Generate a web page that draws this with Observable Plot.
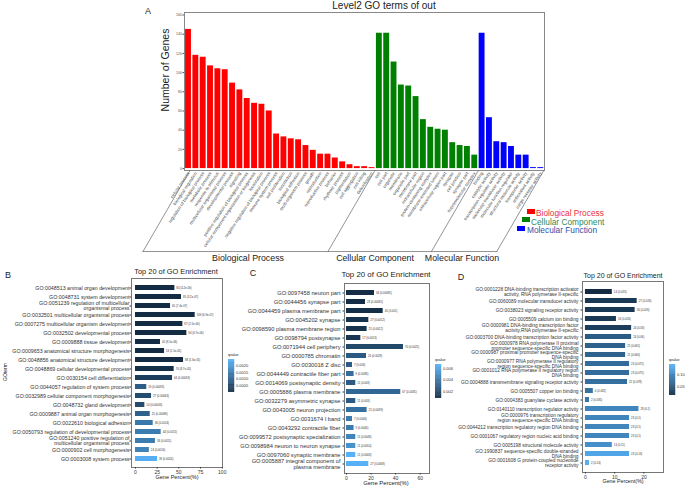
<!DOCTYPE html>
<html>
<head>
<meta charset="utf-8">
<script src="https://cdn.jsdelivr.net/npm/d3@7"></script>
<script src="https://cdn.jsdelivr.net/npm/@observablehq/plot@0.6"></script>
<style>
  html, body { margin: 0; padding: 0; background: #fff; }
  #page { position: relative; width: 685px; height: 490px; overflow: hidden; font-family: "Liberation Sans", Arial, sans-serif; color: #222; }
  #page svg { position: absolute; }
  .lbl { position: absolute; white-space: nowrap; line-height: 1; }
</style>
</head>
<body>
<div id="page"></div>
<script>
// panel A, level 2 GO terms
const bpTerms = ["cellular process", "biological regulation", "regulation of biological process", "metabolic process", "response to stimulus", "multicellular organismal process", "developmental process", "signaling", "positive regulation of biological process", "cellular component organization or biogenesis", "localization", "negative regulation of biological process", "immune system process", "cell proliferation", "locomotion", "biological adhesion", "multi-organism process", "growth", "reproduction", "reproductive process", "behavior", "rhythmic process", "pigmentation", "cell aggregation", "cell killing", "detoxification"];
const bpGenes = [145, 118, 116, 107, 104, 103, 89, 82, 73, 68, 67, 60, 36, 33, 31, 30, 24, 19, 15, 15, 11, 7, 4, 2, 2, 1];
const ccTerms = ["cell", "cell part", "organelle", "membrane", "organelle part", "membrane part", "extracellular region", "protein-containing complex", "membrane-enclosed lumen", "extracellular region part", "synapse", "cell junction", "synapse part", "supramolecular complex"];
const ccGenes = [141, 141, 111, 87, 86, 75, 51, 43, 41, 40, 27, 24, 23, 14];
const mfTerms = ["binding", "catalytic activity", "transcription regulator activity", "molecular transducer activity", "molecular function regulator", "structural molecule activity", "transporter activity", "antioxidant activity", "cargo receptor activity"];
const mfGenes = [141, 53, 28, 27, 23, 14, 14, 1, 1];

// panel B, biological process
const bTerms = ["GO:0048513 animal organ development", "GO:0048731 system development", "GO:0051239 regulation of multicellular\norganismal process", "GO:0032501 multicellular organismal process", "GO:0007275 multicellular organism development", "GO:0032502 developmental process", "GO:0009888 tissue development", "GO:0009653 anatomical structure morphogenesis", "GO:0048856 anatomical structure development", "GO:0048869 cellular developmental process", "GO:0030154 cell differentiation", "GO:0044057 regulation of system process", "GO:0032989 cellular component morphogenesis", "GO:0048732 gland development", "GO:0009887 animal organ morphogenesis", "GO:0022610 biological adhesion", "GO:0050793 regulation of developmental process", "GO:0051240 positive regulation of\nmulticellular organismal process", "GO:0000902 cell morphogenesis", "GO:0003008 system process"];
const bPercent = [45.4, 53, 40.4, 68.8, 54.6, 59.2, 28.8, 33.5, 55.4, 44.6, 42.7, 13, 18.5, 10.8, 17, 20.4, 29.6, 23, 16, 25.4];
const bLabels = ["84 (4.2e-06)", "85 (3.2e-07)", "65 (7.4e-07)", "109 (6.9e-07)", "87 (2.1e-06)", "94 (6.7e-06)", "45 (8.5e-06)", "53 (1.5e-05)", "88 (1.6e-05)", "70 (8.7e-05)", "64 (0.00033)", "19 (0.00093)", "27 (0.00063)", "14 (0.00063)", "25 (0.00098)", "36 (0.0014)", "44 (0.0015)", "34 (0.0015)", "24 (0.0016)", "39 (0.0024)"];
const bQvalue = [4.2e-6, 3.2e-7, 7.4e-7, 6.9e-7, 2.1e-6, 6.7e-6, 8.5e-6, 1.5e-5, 1.6e-5, 8.7e-5, 0.00033, 0.00093, 0.00063, 0.00063, 0.00098, 0.0014, 0.0015, 0.0015, 0.0016, 0.0024];

// panel C, cellular component
const cTerms = ["GO:0097458 neuron part", "GO:0044456 synapse part", "GO:0044459 plasma membrane part", "GO:0045202 synapse", "GO:0098590 plasma membrane region", "GO:0098794 postsynapse", "GO:0071944 cell periphery", "GO:0000785 chromatin", "GO:0030018 Z disc", "GO:0044449 contractile fiber part", "GO:0014069 postsynaptic density", "GO:0005886 plasma membrane", "GO:0032279 asymmetric synapse", "GO:0043005 neuron projection", "GO:0031674 I band", "GO:0043292 contractile fiber", "GO:0099572 postsynaptic specialization", "GO:0098984 neuron to neuron synapse", "GO:0097060 synaptic membrane", "GO:0005887 integral component of\nplasma membrane"];
const cPercent = [22.8, 15.5, 29.9, 18.2, 16.8, 11.7, 46.4, 16.3, 4.9, 6.2, 7.6, 44.2, 7.6, 16.8, 4.9, 6.2, 7.6, 7.6, 7.6, 18.2];
const cLabels = ["34 (0.00085)", "23 (0.00085)", "45 (0.001)", "27 (0.0012)", "25 (0.0012)", "17 (0.0013)", "70 (0.0021)", "24 (0.0029)", "7 (0.003)", "9 (0.0038)", "11 (0.003)", "67 (0.0035)", "11 (0.003)", "25 (0.0039)", "7 (0.0044)", "9 (0.0044)", "11 (0.0048)", "11 (0.0054)", "11 (0.0068)", "27 (0.0068)"];
const cQvalue = [0.00085, 0.00085, 0.001, 0.0012, 0.0012, 0.0013, 0.0021, 0.0029, 0.003, 0.0038, 0.003, 0.0035, 0.003, 0.0039, 0.0044, 0.0044, 0.0048, 0.0054, 0.0068, 0.0068];

// panel D, molecular function
const dTerms = ["GO:0001228 DNA-binding transcription activator\nactivity, RNA polymerase II-specific", "GO:0060089 molecular transducer activity", "GO:0038023 signaling receptor activity", "GO:0005509 calcium ion binding", "GO:0000981 DNA-binding transcription factor\nactivity,RNA polymerase II-specific", "GO:0003700 DNA-binding transcription factor activity", "GO:0000978 RNA polymerase II proximal\npromoter sequence-specific DNA binding", "GO:0000987 proximal promoter sequence-specific\nDNA binding", "GO:0000977 RNA polymerase II regulatory\nregion sequence-specific DNA binding", "GO:0001012 RNA polymerase II regulatory region\nDNA binding", "GO:0004888 transmembrane signaling receptor activity", "GO:0005507 copper ion binding", "GO:0004383 guanylate cyclase activity", "GO:0140110 transcription regulator activity", "GO:0000976 transcription regulatory\nregion sequence-specific DNA binding", "GO:0044212 transcription regulatory region DNA binding", "GO:0001067 regulatory region nucleic acid binding", "GO:0005198 structural molecule activity", "GO:1990837 sequence-specific double-stranded\nDNA binding", "GO:0001608 G protein-coupled nucleotide\nreceptor activity"];
const dPercent = [9.2, 17.7, 17, 10.6, 15.8, 15.8, 13.75, 13.75, 15.1, 15.1, 14.4, 2.7, 1.4, 18.3, 15.1, 15.1, 15.1, 9.2, 15.1, 1.4];
const dLabels = ["14 (0.013)", "27 (0.026)", "26 (0.026)", "16 (0.026)", "24 (0.03)", "24 (0.06)", "21 (0.065)", "21 (0.066)", "23 (0.075)", "23 (0.075)", "22 (0.078)", "4 (0.082)", "2 (0.085)", "28 (0.1)", "23 (0.1)", "23 (0.1)", "23 (0.1)", "14 (0.11)", "23 (0.13)", "2 (0.14)"];
const dQvalue = [0.013, 0.026, 0.026, 0.026, 0.03, 0.06, 0.065, 0.066, 0.075, 0.075, 0.078, 0.082, 0.085, 0.1, 0.1, 0.1, 0.1, 0.11, 0.13, 0.14];

const gradient = ["#132B43", "#56B1F7"];
const page = document.getElementById("page");

function place(node, left, top) {
  node.style.left = left + "px";
  node.style.top = top + "px";
  page.append(node);
}

// x, y is the centre of the text unless anchor says otherwise
function label(text, x, y, size, opts = {}) {
  const el = document.createElement("div");
  el.className = "lbl";
  el.textContent = text;
  el.style.fontSize = size + "px";
  if (opts.color) el.style.color = opts.color;
  const tx = opts.anchor === "start" ? "0" : "-50%";
  el.style.transform = `translate(${tx},-50%)` + (opts.rotate ? ` rotate(${opts.rotate}deg)` : "");
  el.style.left = x + "px";
  el.style.top = y + "px";
  page.append(el);
}

// ---- A
const allTerms = [...bpTerms, ...ccTerms, ...mfTerms];
const allGenes = [...bpGenes, ...ccGenes, ...mfGenes];
const allColors = [...bpTerms.map(() => "#ff0000"), ...ccTerms.map(() => "#008000"), ...mfTerms.map(() => "#0000ff")];
const bars = allTerms.map((term, i) => ({i, term, genes: allGenes[i], color: allColors[i]}));

// oblique brackets under the term labels, in bar index units
const bracketCuts = [0.2, 25.4, 39.5, 48.4];
const bracketSlant = 6.4;
const bracketY = -86.4;
const brackets = bracketCuts.flatMap((c, k) => [
  {k, x: c, y: -2},
  {k, x: c - bracketSlant, y: bracketY}
]);
const baseline = [
  {x: bracketCuts[0] - bracketSlant, y: bracketY},
  {x: bracketCuts[3] - bracketSlant, y: bracketY}
];

const chartA = Plot.plot({
  width: 430,
  height: 265,
  marginLeft: 54,
  marginRight: 16,
  marginTop: 12,
  marginBottom: 95,
  style: {fontFamily: "Liberation Sans", background: "transparent"},
  x: {domain: [-0.545, 48.5]},
  y: {domain: [-2, 162.6]},
  marks: [
    Plot.rectY(bars, {x1: d => d.i - 0.4, x2: d => d.i + 0.4, y1: 0, y2: "genes", fill: "color"}),
    Plot.frame({stroke: "#888"}),
    Plot.axisY({ticks: d3.range(0, 161, 20), tickSize: 1.5, tickPadding: 1, fontSize: 3.6, label: null, color: "#555"}),
    Plot.axisX({ticks: d3.range(allTerms.length), tickFormat: i => allTerms[i], tickRotate: -56, tickSize: 0, tickPadding: 2, fontSize: 4.4, label: null, color: "#444"}),
    Plot.line(brackets, {x: "x", y: "y", z: "k", stroke: "#666", strokeWidth: 0.7}),
    Plot.line(baseline, {x: "x", y: "y", stroke: "#666", strokeWidth: 0.7})
  ]
});
place(chartA, 130, 0);

label("A", 148, 11, 9);
label("Level2 GO terms of out", 384, 6, 10);
label("Number of Genes", 165, 70, 10.5, {rotate: -90});
label("Biological Process", 248, 258, 8.8);
label("Cellular Component", 375, 258, 8.8);
label("Molecular Function", 462, 258, 8.8);

// legend of panel A
[["Biological Process", "#ff0000", "#e8323c", 527, 536, 211], ["Cellular Component", "#008000", "#2e8b57", 522, 531, 219.5], ["Molecular Function", "#0000ff", "#3050a8", 517, 527, 228]].forEach(([name, swatch, ink, sx, tx, y]) => {
  const box = document.createElement("div");
  box.style.cssText = `position:absolute;left:${sx}px;top:${y - 2.5}px;width:8px;height:5px;background:${swatch}`;
  page.append(box);
  label(name, tx, y + 2, 8.3, {anchor: "start", color: ink});
});

// ---- B, C, D
function enrichment(cfg) {
  const rows = cfg.terms.map((term, i) => ({term, pct: cfg.percent[i], text: cfg.labels[i], q: cfg.qvalue[i]}));
  const chart = Plot.plot({
    width: cfg.width,
    height: cfg.height,
    marginLeft: cfg.ml,
    marginRight: cfg.mr,
    marginTop: cfg.mt,
    marginBottom: cfg.mb,
    style: {fontFamily: "Liberation Sans", background: "transparent"},
    x: {domain: cfg.xDomain},
    y: {domain: cfg.terms, paddingInner: 0.45, paddingOuter: 0.31},
    color: {type: "linear", domain: cfg.colorDomain, range: gradient},
    marks: [
      Plot.barX(rows, {x1: 0, x2: "pct", y: "term", fill: "q"}),
      Plot.text(rows, {x: "pct", y: "term", text: "text", textAnchor: "start", dx: 1.5, fontSize: 2.8, fill: "#333"}),
      Plot.frame({stroke: "#777", strokeWidth: 1}),
      Plot.axisX({ticks: cfg.xTicks, tickSize: 1.5, tickPadding: 1, fontSize: 5, label: null, color: "#333"}),
      Plot.axisY({tickSize: 1.5, tickPadding: cfg.pad, fontSize: cfg.fontSize, label: null, color: "#333", lineHeight: 1})
    ]
  });
  place(chart, cfg.left, cfg.top);
}

function colorBar(domain, ticks, format, left, top, height) {
  const steps = d3.range(60).map(i => {
    const lo = domain[0] + (domain[1] - domain[0]) * i / 60;
    const hi = domain[0] + (domain[1] - domain[0]) * (i + 1) / 60;
    return {lo, hi, mid: (lo + hi) / 2};
  });
  const bar = Plot.plot({
    width: 30,
    height: height,
    marginLeft: 0,
    marginRight: 24,
    marginTop: 0,
    marginBottom: 0,
    style: {fontFamily: "Liberation Sans", background: "transparent"},
    x: {domain: [0, 1], axis: null},
    y: {domain: domain},
    color: {type: "linear", domain: domain, range: gradient},
    marks: [
      Plot.rect(steps, {x1: 0, x2: 1, y1: "lo", y2: "hi", fill: "mid", stroke: "mid", strokeWidth: 0.3}),
      Plot.axisY({anchor: "right", ticks, tickFormat: format, tickSize: 0, tickPadding: 1.5, fontSize: 4, label: null, color: "#333"})
    ]
  });
  place(bar, left, top);
  label("qvalue", left, top - 3.5, 3.6, {anchor: "start"});
}

enrichment({
  terms: bTerms, percent: bPercent, labels: bLabels, qvalue: bQvalue,
  xDomain: [-4.6, 100.3], xTicks: [0, 25, 50, 75, 100], colorDomain: [0, 0.00245], fontSize: 5.3, pad: 0.5,
  left: 0, top: 265, width: 235, height: 225, ml: 131, mr: 13, mt: 13, mb: 23
});
enrichment({
  terms: cTerms, percent: cPercent, labels: cLabels, qvalue: cQvalue,
  xDomain: [-1.6, 67.6], xTicks: [0, 20, 40, 60], colorDomain: [0.0008, 0.0068], fontSize: 5.7, pad: 2.5,
  left: 225, top: 265, width: 230, height: 225, ml: 119, mr: 26, mt: 18, mb: 17
});
enrichment({
  terms: dTerms, percent: dPercent, labels: dLabels, qvalue: dQvalue,
  xDomain: [-1, 26.7], xTicks: [0, 10, 20], colorDomain: [0.013, 0.142], fontSize: 4.8, pad: 2.5,
  left: 450, top: 265, width: 235, height: 225, ml: 132, mr: 22, mt: 16, mb: 18
});

colorBar([0, 0.00245], [0.0005, 0.001, 0.0015, 0.002], d3.format(".4f"), 228, 359, 33);
colorBar([0.0008, 0.0067], [0.002, 0.004, 0.006], d3.format(".3f"), 435, 364, 34);
colorBar([0.013, 0.142], [0.05, 0.1], d3.format(".2f"), 669, 364, 31);

label("B", 8, 275, 9);
label("C", 253, 273, 9);
label("D", 461, 277, 9);
label("Top 20 of GO Enrichment", 176, 272, 7.4);
label("Top 20 of GO Enrichment", 386, 275, 7.9);
label("Top 20 of GO Enrichment", 623, 275, 7);
label("Gene Percent(%)", 177, 478, 5.6);
label("Gene Percent(%)", 386, 484, 5.9);
label("Gene Percent(%)", 623, 482, 5.3);
label("GOterm", 5, 372, 5, {rotate: -90});
</script>
</body>
</html>
